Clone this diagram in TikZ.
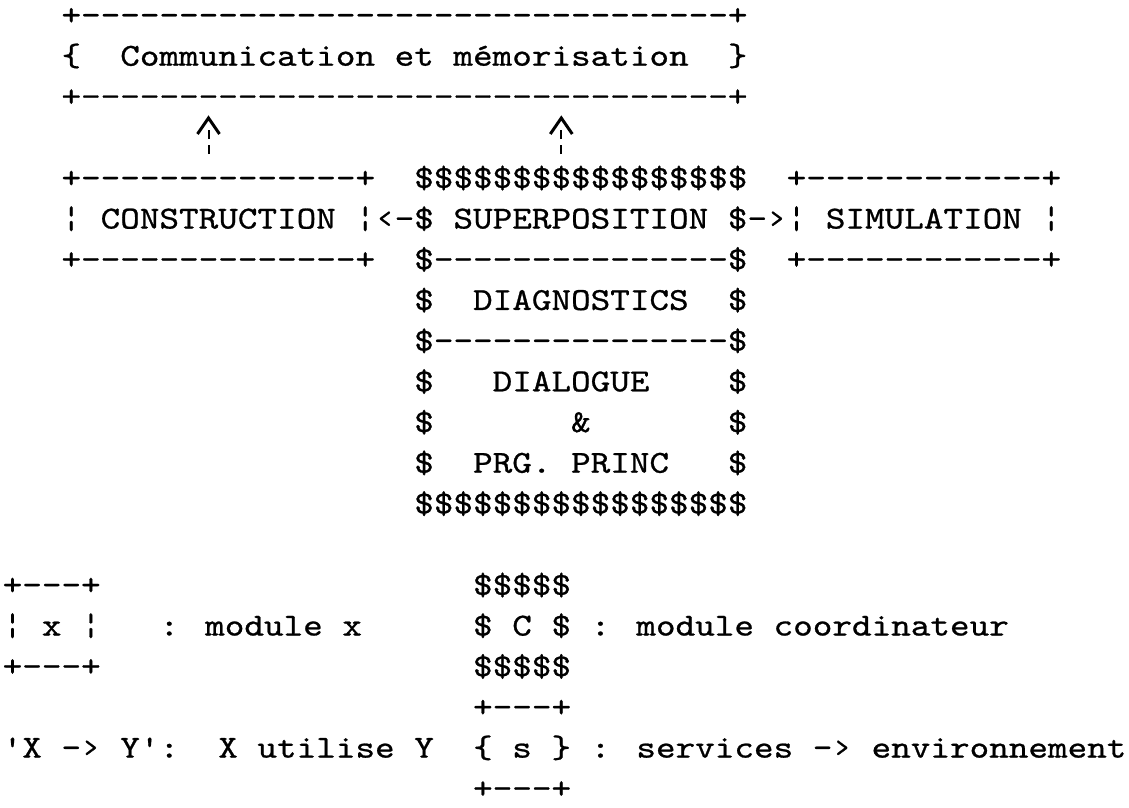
\documentclass[tikz,border=0pt]{standalone}
\usepackage{fontspec}
\newfontfamily\typewriter{lmmono10-regular}[Extension=.otf, FakeStretch=1.1667, FakeBold=0.8, Ligatures=TeXOff]
\usetikzlibrary{calc}

% one character cell: 19.6 units wide, one text line: 40.7 units high
\newcommand\cell[4]{\node[txt] (#1) at ({2.7+19.6*#2},{25+40.7*#3}) {#4};}

\begin{document}
\begin{tikzpicture}[x=1pt, y=-1pt,
  txt/.style={anchor=base west, inner sep=0pt, outer sep=0pt,
              font=\typewriter\fontsize{32}{38}\selectfont},
  upstem/.style={line width=2pt, dash pattern=on 9pt off 6pt},
  upcaret/.style={line width=3pt, line join=miter}]
\useasboundingbox (0,0) rectangle (1129,807);

% shared memory / communication block
\cell{memtop}{3}{0}{+---------------------------------+}
\cell{mem}{3}{1}{\{~~Communication et mémorisation~~\}}
\cell{membot}{3}{2}{+---------------------------------+}

% modules around the coordinator
\cell{constop}{3}{4}{+--------------+}
\cell{cons}{3}{5}{¦ CONSTRUCTION ¦}
\cell{consbot}{3}{6}{+--------------+}
\cell{larrow}{19}{5}{‹-}

\cell{suptop}{21}{4}{\$\$\$\$\$\$\$\$\$\$\$\$\$\$\$\$\$}
\cell{sup}{21}{5}{\$ SUPERPOSITION \$}
\cell{sepa}{21}{6}{\$---------------\$}
\cell{diag}{21}{7}{\$~~DIAGNOSTICS~~\$}
\cell{sepb}{21}{8}{\$---------------\$}
\cell{dial}{21}{9}{\$~~~DIALOGUE~~~~\$}
\cell{amp}{21}{10}{\$~~~~~~~\&~~~~~~~\$}
\cell{prg}{21}{11}{\$~~PRG. PRINC~~~\$}
\cell{supbot}{21}{12}{\$\$\$\$\$\$\$\$\$\$\$\$\$\$\$\$\$}

\cell{rarrow}{38}{5}{-›}
\cell{simtop}{40}{4}{+------------+}
\cell{sim}{40}{5}{¦ SIMULATION ¦}
\cell{simbot}{40}{6}{+------------+}

% upward "uses" arrows into the communication block
\coordinate (upa) at ({2.7+19.6*10+9.8},118);
\coordinate (upb) at ({2.7+19.6*28+9.8},118);
\foreach \u in {upa,upb}{
  \draw[upstem] ($(\u)+(0,36)$) -- ($(\u)+(0,8)$);
  \draw[upcaret] ($(\u)+(-11,16)$) -- (\u) -- ($(\u)+(11,16)$);
}

% legend
\cell{lgatop}{0}{14}{+---+}
\cell{lga}{0}{15}{¦ x ¦~~~: module x}
\cell{lgabot}{0}{16}{+---+}

\cell{lgbtop}{24}{14}{\$\$\$\$\$}
\cell{lgb}{24}{15}{\$ C \$ : module coordinateur}
\cell{lgbbot}{24}{16}{\$\$\$\$\$}

\cell{lgc}{0}{18}{'X -› Y':~~X utilise Y}

\cell{lgdtop}{24}{17}{+---+}
\cell{lgd}{24}{18}{\{ s \} : services -› environnement}
\cell{lgdbot}{24}{19}{+---+}
\end{tikzpicture}
\end{document}
